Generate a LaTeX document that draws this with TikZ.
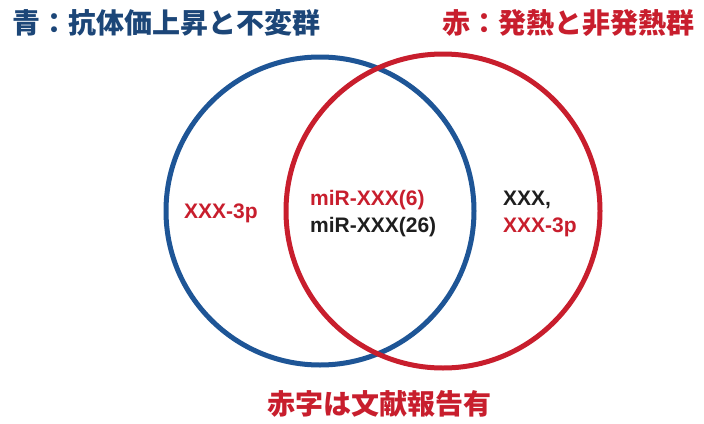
\documentclass[tikz,border=0pt]{standalone}
\usepackage{fontspec}
\setmainfont{Liberation Sans}
\newfontfamily\cjk{Noto Sans CJK JP}
\definecolor{vblue}{RGB}{30,85,150}
\definecolor{tblue}{RGB}{28,70,120}
\definecolor{vred}{RGB}{200,30,45}
\definecolor{tblack}{RGB}{30,30,30}
\begin{document}
\begin{tikzpicture}[x=1pt,y=-1pt,
  ring/.style={line width=5pt},
  title/.style={font=\cjk\bfseries\fontsize{28}{32}\selectfont, inner sep=0pt},
  lbl/.style={font=\bfseries\fontsize{21}{24}\selectfont, inner sep=0pt, anchor=west}]
\useasboundingbox (0,0) rectangle (704,423);
\fill[white] (0,0) rectangle (704,423);
\node[title, text=tblue, anchor=west] (tb) at (12,23) {青：抗体価上昇と不変群};
\node[title, text=vred, anchor=east] (tr) at (695,23) {赤：発熱と非発熱群};
\draw[ring, vblue] (320,211) circle (154);
\draw[ring, vred] (443,211) circle (157);
\node[lbl, text=vred] (l1) at (184,213) {XXX-3p};
\node[lbl, text=vred] (c1) at (310,200) {miR-XXX(6)};
\node[lbl, text=tblack] (c2) at (310,227) {miR-XXX(26)};
\node[lbl, text=vred] (r2) at (503,227) {XXX-3p};
\node[lbl, text=tblack, anchor=base west] (r1) at (r2.base west |- c1.base) {XXX,};
\node[title, text=vred] (foot) at (379,404) {赤字は文献報告有};
\end{tikzpicture}
\end{document}
